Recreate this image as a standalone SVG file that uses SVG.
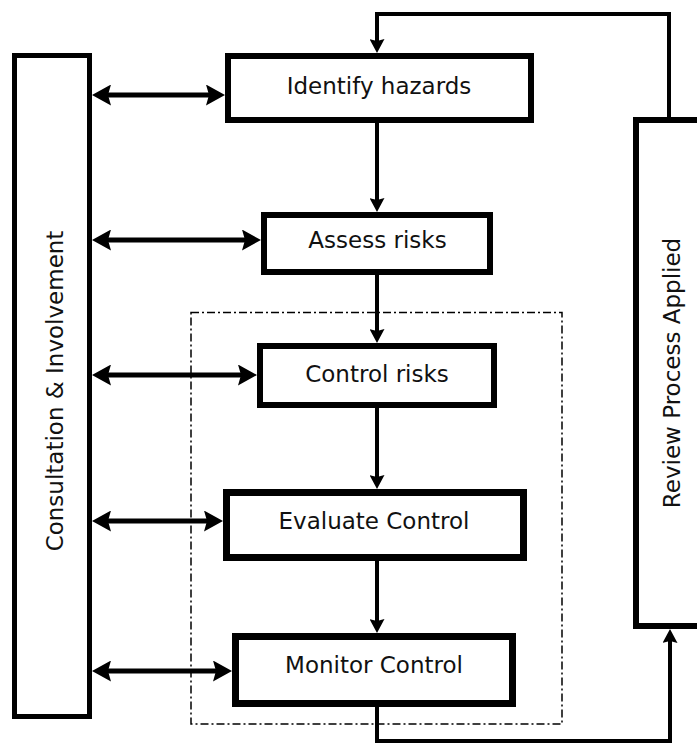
<svg xmlns="http://www.w3.org/2000/svg" width="697" height="745" viewBox="0 0 697 745">
  <style>
    .box { fill: #fff; stroke: #000; }
    .lbl { font-family: "DejaVu Sans", Verdana, sans-serif; font-size: 23px; fill: #111; text-anchor: middle; }
    .dbl { stroke: #000; stroke-width: 5; fill: none; marker-start: url(#bigHead); marker-end: url(#bigHead); }
    .flow { stroke: #000; stroke-width: 4; fill: none; marker-end: url(#smallHead); }
    .loop { stroke: #000; stroke-width: 4; fill: none; stroke-linejoin: miter; marker-end: url(#smallHead); }
  </style>
  <defs>
    <marker id="bigHead" viewBox="0 0 19 21" markerWidth="19" markerHeight="21" refX="9" refY="10.5" orient="auto-start-reverse" markerUnits="userSpaceOnUse">
      <path d="M0,0 L19,10.5 L0,21 L3,10.5 Z" fill="#000"/>
    </marker>
    <marker id="smallHead" viewBox="0 0 14 15" markerWidth="14" markerHeight="15" refX="7" refY="7.5" orient="auto" markerUnits="userSpaceOnUse">
      <path d="M0,0 L14,7.5 L0,15 L2,7.5 Z" fill="#000"/>
    </marker>
  </defs>

  <!-- dashed control group -->
  <rect id="control-group" x="191" y="312.5" width="371" height="411.5" fill="none" stroke="#000" stroke-width="1.5" stroke-dasharray="8 3 2 3"/>

  <g id="connectors">
    <!-- double arrows from Consultation -->
    <line class="dbl" x1="102" y1="95" x2="215" y2="95"/>
    <line class="dbl" x1="102" y1="240" x2="251" y2="240"/>
    <line class="dbl" x1="102" y1="375" x2="247" y2="375"/>
    <line class="dbl" x1="102" y1="521" x2="213" y2="521"/>
    <line class="dbl" x1="102" y1="671" x2="222" y2="671"/>
    <!-- main flow -->
    <line class="flow" x1="377" y1="123" x2="377" y2="205"/>
    <line class="flow" x1="377" y1="275" x2="377" y2="336"/>
    <line class="flow" x1="377" y1="408" x2="377" y2="482"/>
    <line class="flow" x1="377" y1="561" x2="377" y2="626"/>
    <!-- feedback loops -->
    <path class="loop" d="M669,117 L669,14 L377,14 L377,46"/>
    <path class="loop" d="M377,707 L377,741 L670,741 L670,636"/>
  </g>

  <g id="consultation">
    <rect class="box" x="14.5" y="55.5" width="75" height="661" stroke-width="5"/>
    <text class="lbl" transform="translate(63,391) rotate(-90)">Consultation &amp; Involvement</text>
  </g>

  <g id="review">
    <rect class="box" x="636" y="120" width="100" height="506" stroke-width="6"/>
    <text class="lbl" transform="translate(680,373) rotate(-90)">Review Process Applied</text>
  </g>

  <g id="identify">
    <rect class="box" x="228" y="56" width="303" height="64" stroke-width="6"/>
    <text class="lbl" x="379" y="94">Identify hazards</text>
  </g>

  <g id="assess">
    <rect class="box" x="264" y="215" width="226" height="57" stroke-width="6"/>
    <text class="lbl" x="377.5" y="248">Assess risks</text>
  </g>

  <g id="control">
    <rect class="box" x="260" y="346" width="234" height="59" stroke-width="6"/>
    <text class="lbl" x="377" y="382">Control risks</text>
  </g>

  <g id="evaluate">
    <rect class="box" x="226.5" y="492.5" width="297" height="65" stroke-width="7"/>
    <text class="lbl" x="374" y="529">Evaluate Control</text>
  </g>

  <g id="monitor">
    <rect class="box" x="235.5" y="636.5" width="277" height="67" stroke-width="7"/>
    <text class="lbl" x="374" y="673">Monitor Control</text>
  </g>
</svg>
